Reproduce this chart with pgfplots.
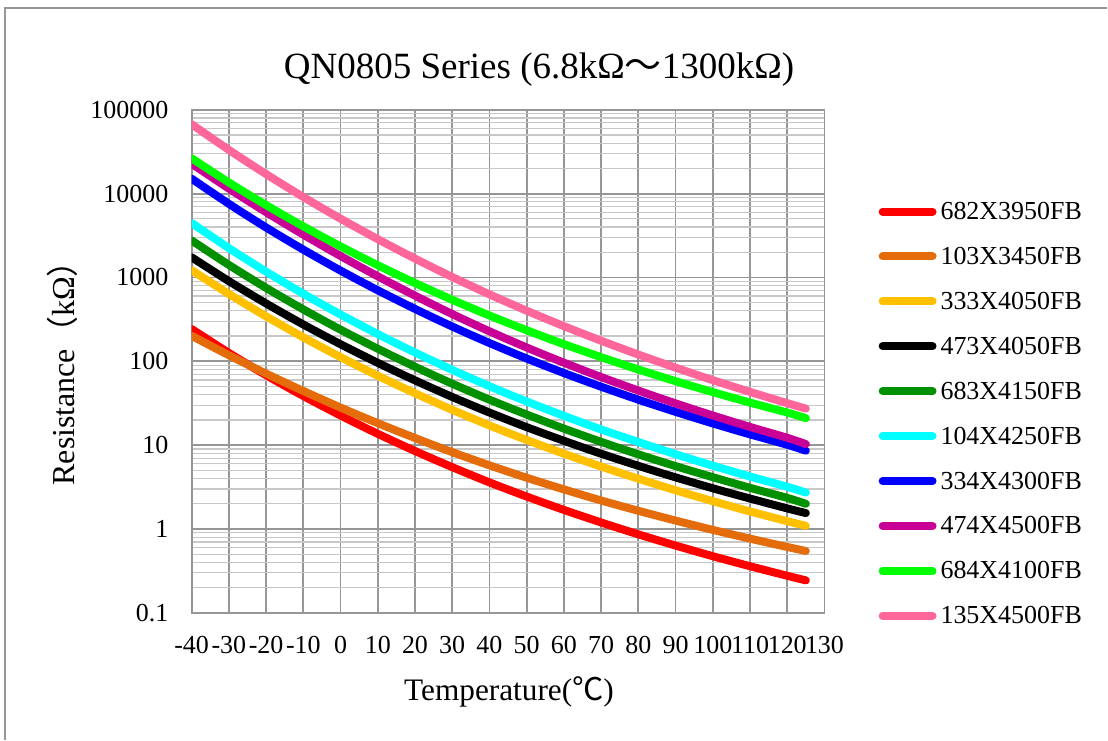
\documentclass[border=0pt]{standalone}
\usepackage{fontspec}
\setmainfont{Liberation Serif}
\newfontfamily\cjk{Noto Sans CJK SC}
\usepackage{pgfplots}
\pgfplotsset{compat=1.18}

\definecolor{cRed}{RGB}{255,0,0}
\definecolor{cOrange}{RGB}{228,108,10}
\definecolor{cYellow}{RGB}{255,192,0}
\definecolor{cBlack}{RGB}{0,0,0}
\definecolor{cDkGreen}{RGB}{0,144,0}
\definecolor{cCyan}{RGB}{0,255,255}
\definecolor{cBlue}{RGB}{0,0,255}
\definecolor{cMagenta}{RGB}{200,0,150}
\definecolor{cGreen}{RGB}{0,255,0}
\definecolor{cPink}{RGB}{255,102,153}
\definecolor{gridMajor}{RGB}{150,150,150}
\definecolor{gridMinor}{RGB}{200,200,200}

\begin{document}
\begin{tikzpicture}
\path (0,0) rectangle (831pt,-555pt);
\draw[gridMajor, line width=1.1pt] (3.75pt,-556pt) -- (3.75pt,-6pt) -- (832pt,-6pt);
\begin{axis}[
  at={(144pt,-460.5pt)}, anchor=south west,
  scale only axis, width=475.5pt, height=378pt,
  ymode=log, xmin=-40, xmax=130, ymin=0.1, ymax=100000,
  xtick={-40,-30,...,130},
  xticklabels={-40,-30,-20,-10,0,10,20,30,40,50,60,70,80,90,100,110,120,130},
  ytick={0.1,1,10,100,1000,10000,100000},
  yticklabels={0.1,1,10,100,1000,10000,100000},
  minor ytick={0.2,0.3,0.4,0.5,0.6,0.7,0.8,0.9,2,3,4,5,6,7,8,9,20,30,40,50,60,70,80,90,200,300,400,500,600,700,800,900,2000,3000,4000,5000,6000,7000,8000,9000,20000,30000,40000,50000,60000,70000,80000,90000},
  grid=both,
  major grid style={draw=gridMajor, line width=1.3pt},
  minor grid style={draw=gridMinor, line width=0.9pt},
  axis line style={draw=gridMajor, line width=1.3pt},
  tick style={draw=none},
  tick label style={font=\fontsize{19.5}{22}\selectfont},
  xticklabel style={yshift=-14pt},
  yticklabel style={xshift=-14pt},
  title={QN0805 Series (6.8kΩ{\cjk ～}1300kΩ)},
  title style={at={(axis description cs:0.549,1.064)}, anchor=center, font=\fontsize{27.8}{30}\selectfont},
  xlabel={Temperature({\cjk ℃})},
  xlabel style={at={(axis description cs:0.5016,-0.157)}, anchor=center, font=\fontsize{23.5}{26}\selectfont},
  ylabel={Resistance{\cjk （}kΩ{\cjk ）}},
  ylabel style={at={(axis description cs:-0.205,0.492)}, anchor=center, font=\fontsize{24}{26}\selectfont},
  legend style={at={(axis description cs:1.0852,0.398)}, anchor=west, draw=none, fill=none,
    font=\fontsize{19.5}{22}\selectfont, inner sep=0pt,
    nodes={inner sep=0pt, text height=13.5pt, text depth=0pt},
    row sep=20.25pt},
  legend cell align=left,
  legend image code/.code={\draw[#1, line width=6pt, line cap=round] (3pt,-0.75pt) -- (40.5pt,-0.75pt);},
  /tikz/every odd column/.append style={column sep=3pt},
  every axis plot/.append style={line width=6pt, line cap=round, line join=round, smooth},
]
\addplot[cRed] coordinates {(-40,243.2)(-30,126.1)(-20,68.4)(-10,38.6)(0,22.6)(10,13.66)(20,8.52)(30,5.47)(40,3.60)(50,2.44)(60,1.69)(70,1.197)(80,0.864)(90,0.635)(100,0.474)(110,0.360)(120,0.277)(125,0.244)};
\addplot[cOrange] coordinates {(-40,201.4)(-30,118.3)(-20,71.4)(-10,44.3)(0,28.1)(10,18.3)(20,12.18)(30,8.26)(40,5.75)(50,4.09)(60,2.97)(70,2.19)(80,1.65)(90,1.261)(100,0.977)(110,0.768)(120,0.611)(125,0.547)};
\addplot[cYellow] coordinates {(-40,1223)(-30,635.5)(-20,344.0)(-10,193.2)(0,112.3)(10,67.3)(20,41.6)(30,26.4)(40,17.2)(50,11.54)(60,7.92)(70,5.56)(80,3.98)(90,2.90)(100,2.15)(110,1.62)(120,1.24)(125,1.09)};
\addplot[cBlack] coordinates {(-40,1742)(-30,905)(-20,490)(-10,275)(0,159.9)(10,95.9)(20,59.3)(30,37.6)(40,24.5)(50,16.4)(60,11.28)(70,7.91)(80,5.67)(90,4.13)(100,3.06)(110,2.31)(120,1.76)(125,1.55)};
\addplot[cDkGreen] coordinates {(-40,2767)(-30,1412)(-20,752)(-10,416)(0,238.6)(10,141.3)(20,86.2)(30,54.1)(40,34.9)(50,23.2)(60,15.76)(70,10.96)(80,7.78)(90,5.63)(100,4.15)(110,3.10)(120,2.35)(125,2.0)};
\addplot[cCyan] coordinates {(-40,4468)(-30,2241)(-20,1174)(-10,640)(0,361.7)(10,211.4)(20,127.5)(30,79.1)(40,50.5)(50,33.2)(60,22.4)(70,15.4)(80,10.9)(90,7.80)(100,5.70)(110,4.23)(120,3.19)(125,2.72)};
\addplot[cBlue] coordinates {(-40,15086)(-30,7561)(-20,3951)(-10,2148)(0,1209)(10,703.4)(20,422.0)(30,260.1)(40,165.4)(50,108.1)(60,72.5)(70,49.8)(80,34.9)(90,24.97)(100,18.18)(110,13.46)(120,10.12)(125,8.6)};
\addplot[cMagenta] coordinates {(-40,22744)(-30,11505)(-20,6015)(-10,3247)(0,1805)(10,1033)(20,607.3)(30,366.4)(40,228.1)(50,146.2)(60,96.3)(70,64.95)(80,44.8)(90,31.5)(100,22.6)(110,16.5)(120,12.25)(125,10.3)};
\addplot[cGreen] coordinates {(-40,26407)(-30,13598)(-20,7301)(-10,4070)(0,2349)(10,1400)(20,859.7)(30,542.0)(40,351.9)(50,234.7)(60,160.3)(70,112.1)(80,79.9)(90,58.0)(100,42.9)(110,32.2)(120,24.5)(125,21.0)};
\addplot[cPink] coordinates {(-40,67277)(-30,33260)(-20,17098)(-10,9118)(0,5030)(10,2865)(20,1680)(30,1013)(40,629.2)(50,401.6)(60,262.9)(70,176.1)(80,120.5)(90,84.1)(100,59.7)(110,43.2)(120,31.7)(125,27.3)};
\legend{682X3950FB,103X3450FB,333X4050FB,473X4050FB,683X4150FB,104X4250FB,334X4300FB,474X4500FB,684X4100FB,135X4500FB}
\end{axis}
\end{tikzpicture}
\end{document}
